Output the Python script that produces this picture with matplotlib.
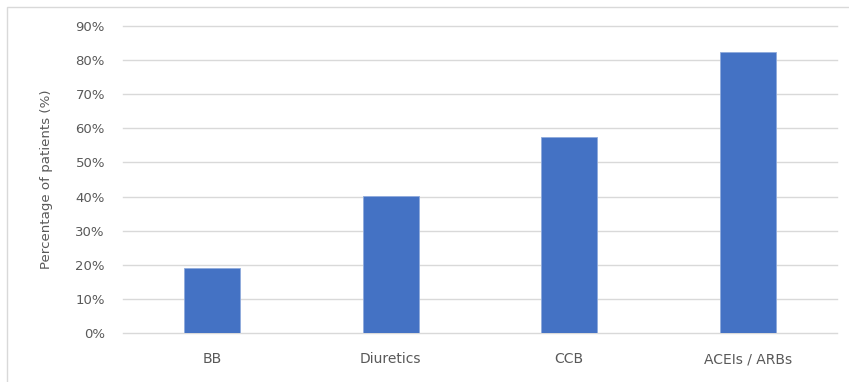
import matplotlib
matplotlib.use("Agg")
import matplotlib.pyplot as plt
from matplotlib.patches import Rectangle
from matplotlib.ticker import PercentFormatter

categories = ["BB", "Diuretics", "CCB", "ACEIs / ARBs"]
values = [19.0, 40.2, 57.6, 82.5]
yticks = [0, 10, 20, 30, 40, 50, 60, 70, 80, 90]

W, H = 849, 382
fig = plt.figure(figsize=(W / 100, H / 100), dpi=100)
plt.rcParams["font.family"] = ["DejaVu Sans"]

# plot area in pixel coordinates
left, right = 123, 837
top, bottom = 26, 333
ax = fig.add_axes([left / W, 1 - bottom / H, (right - left) / W, (bottom - top) / H])

x = range(len(categories))
ax.bar(x, values, width=0.315, color="#4472C4", edgecolor="#8FAADC", linewidth=0.6, zorder=3)

ax.set_xlim(-0.5, len(categories) - 0.5)
ax.set_ylim(0, 90)
ax.set_yticks(yticks)
ax.yaxis.set_major_formatter(PercentFormatter(decimals=0))
ax.set_xticks(list(x))
ax.set_xticklabels(categories)

ax.grid(axis="y", color="#D9D9D9", linewidth=1.0, zorder=0)
for gl in ax.get_ygridlines():
    gl.set_clip_on(False)
for s in ax.spines.values():
    s.set_visible(False)
ax.tick_params(axis="both", length=0, colors="#595959")
ax.tick_params(axis="y", pad=13, labelsize=9.5)
ax.tick_params(axis="x", pad=14, labelsize=10)
ax.set_ylabel("Percentage of patients (%)", color="#595959", fontsize=9.6, labelpad=16)

# chart frame
fig.patches.append(Rectangle((7 / W, -0.1), 1.1, 1 - 7 / H + 0.1, transform=fig.transFigure,
                             fill=False, edgecolor="#D9D9D9", linewidth=1.0))

fig.savefig("out.png", dpi=100)
